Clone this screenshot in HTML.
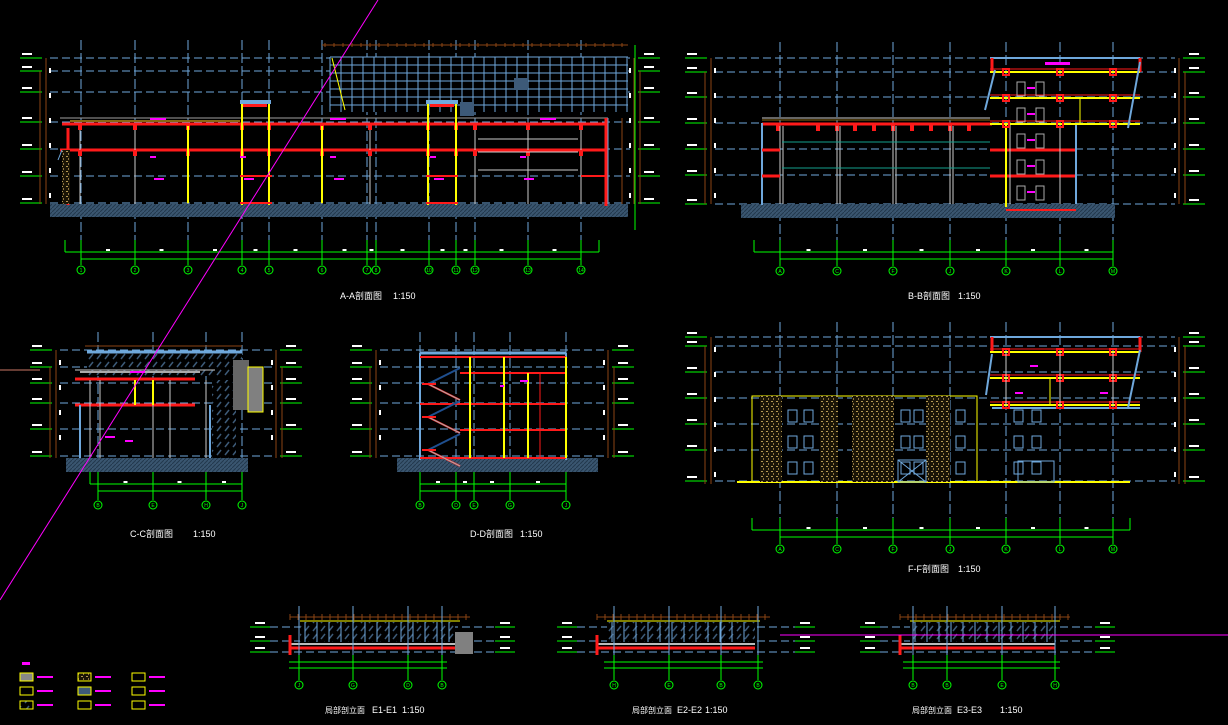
<!DOCTYPE html>
<html><head><meta charset="utf-8">
<style>
html,body{margin:0;padding:0;background:#000;overflow:hidden}
svg{display:block}
text{font-family:"Liberation Sans","Noto Sans CJK SC",sans-serif;}
</style></head>
<body>
<svg id="s" width="1228" height="725" viewBox="0 0 1228 725" xmlns="http://www.w3.org/2000/svg">
<rect width="1228" height="725" fill="#000"/>
<defs>
<pattern id="hatch" width="4" height="4" patternUnits="userSpaceOnUse">
<rect width="4" height="4" fill="#3a5670"/><path d="M0 4L4 0" stroke="#22384c" stroke-width="1"/>
</pattern>
<pattern id="stone" width="5" height="5" patternUnits="userSpaceOnUse">
<rect width="5" height="5" fill="#1a1406"/><rect x="1" y="1" width="2" height="1" fill="#b59a55"/><rect x="3" y="3" width="1" height="2" fill="#8c7440"/>
</pattern>
<pattern id="glass" width="8" height="8" patternUnits="userSpaceOnUse">
<rect width="8" height="8" fill="#000"/><path d="M1 7L5 2" stroke="#3d5a78" stroke-width="1.5"/>
</pattern>
</defs>
<g id="g"></g>
<g font-size="9" fill="#fff">
<text x="340" y="299">A-A剖面图</text><text x="393" y="299">1:150</text>
<text x="908" y="299">B-B剖面图</text><text x="958" y="299">1:150</text>
<text x="130" y="537">C-C剖面图</text><text x="193" y="537">1:150</text>
<text x="470" y="537">D-D剖面图</text><text x="520" y="537">1:150</text>
<text x="908" y="572">F-F剖面图</text><text x="958" y="572">1:150</text>
<text x="325" y="713" font-size="8">局部剖立面</text><text x="372" y="713">E1-E1</text><text x="402" y="713">1:150</text>
<text x="632" y="713" font-size="8">局部剖立面</text><text x="677" y="713">E2-E2</text><text x="705" y="713">1:150</text>
<text x="912" y="713" font-size="8">局部剖立面</text><text x="957" y="713">E3-E3</text><text x="1000" y="713">1:150</text>
</g>
</svg>
<script>
var g=document.getElementById('g'),h='';
function L(x1,y1,x2,y2,c,w,d){h+='<line x1="'+x1+'" y1="'+y1+'" x2="'+x2+'" y2="'+y2+'" stroke="'+c+'" stroke-width="'+(w||1)+'"'+(d?' stroke-dasharray="'+d+'"':'')+'/>';}
function R(x,y,w,hh,f,s,sw){h+='<rect x="'+x+'" y="'+y+'" width="'+w+'" height="'+hh+'" fill="'+(f||'none')+'"'+(s?' stroke="'+s+'" stroke-width="'+(sw||1)+'"':'')+'/>';}
function C(x,y,t){h+='<circle cx="'+x+'" cy="'+y+'" r="4" fill="none" stroke="#0f0" stroke-width="1"/><text x="'+x+'" y="'+(y+2)+'" font-size="5" fill="#0f0" text-anchor="middle">'+t+'</text>';}
var B='#6fa8dc',GR='#00ff00',RD='#ff1a1a',YE='#ffff00',BR='#8b4513',WH='#ccc',MG='#ff00ff';
function section(o){
 // o: x0,x1 extents, axes, grid ys, ground y, dims y, labels
 o.ys.forEach(function(y){L(o.x0,y,o.x1,y,B,1,'8 4');});
 o.ax.forEach(function(x,i){L(x,o.top,x,o.cy-5,B,1,'10 3');C(x,o.cy,o.lab[i]);});
 R(o.gx0,o.gy,o.gx1-o.gx0,o.gh,'url(#hatch)');
 // dims
 var a0=o.ax[0],a1=o.ax[o.ax.length-1];
 L(o.dx0,o.dy,o.dx1,o.dy,GR,1);L(a0,o.dy+7,a1,o.dy+7,GR,1);
 L(o.dx0,o.dy-12,o.dx0,o.dy,GR,1);L(o.dx1,o.dy-12,o.dx1,o.dy,GR,1);
 o.ax.forEach(function(x){L(x,o.dy-12,x,o.cy-5,GR,1);});
 for(var i=0;i<o.ax.length-1;i++)R((o.ax[i]+o.ax[i+1])/2-2,o.dy-3,4,2,'#fff');
 // level markers both sides
 o.ys.forEach(function(y){
  L(o.x0-30,y,o.x0-8,y,GR,1);R(o.x0-28,y-5,10,2,'#fff');
  L(o.x1+8,y,o.x1+30,y,GR,1);R(o.x1+14,y-5,10,2,'#fff');
 });
 L(o.x0-4,o.ys[0],o.x0-4,o.gy,BR,1);L(o.x1+4,o.ys[0],o.x1+4,o.gy,BR,1);
 L(o.x0-10,o.ys[1],o.x0-10,o.gy,BR,1);L(o.x1+10,o.ys[1],o.x1+10,o.gy,BR,1);
 for(var y=o.ys[0]+10;y<o.gy;y+=25){R(o.x0-1,y,2,5,'#fff');R(o.x1-1,y,2,5,'#fff');}
}
// ===== A-A =====
var axA=[81,135,188,242,269,322,367,376,429,456,475,528,581];
section({x0:50,x1:630,ys:[58,71,92,122,149,176,203],ax:axA,lab:['1','2','3','4','5','6','7','8','10','11','12','13','14'],top:40,cy:270,gx0:50,gx1:628,gy:204,gh:13,dy:252,dx0:65,dx1:599});
// curtain wall
R(330,57,298,55,'#000');
for(var x=330;x<=628;x+=11)L(x,57,x,112,B,1);
for(var y=57;y<=112;y+=8)L(330,y,628,y,B,1);
R(514,78,14,12,'#3d5a78');R(460,102,14,14,'#3d5a78');
L(322,45,628,45,BR,1);for(x=325;x<628;x+=9)L(x,43,x,47,BR,1);
L(332,58,345,110,YE,1);
// columns & beams A
L(62,124,608,124,RD,3);L(60,150,608,150,RD,3);L(60,118,608,118,'#a0a0a0',1);
L(70,121,240,121,'#8b6914',2);
[80,135,188,242,269,322,370,428,456,475,528,581].forEach(function(x){L(x,126,x,204,WH,1);R(x-2,124,4,6,RD);R(x-2,150,4,6,RD);});
[188,242,269,322,428,456].forEach(function(x){L(x,126,x,203,YE,2);});
L(242,101,242,205,YE,2);L(269,101,269,205,YE,2);R(240,100,31,4,B);R(243,104,24,3,RD);
L(428,101,428,205,YE,2);L(456,101,456,205,YE,2);R(426,100,32,4,B);R(430,104,24,3,RD);
L(240,176,272,176,RD,2);L(426,176,458,176,RD,2);L(240,203,272,203,RD,2);L(426,203,458,203,RD,2);
L(581,176,608,176,RD,2);L(606,118,606,206,RD,3);L(68,128,68,205,RD,3);
R(62,150,8,54,'url(#stone)');
L(478,139,578,139,WH,1);L(478,152,578,152,WH,1);L(478,170,578,170,WH,1);
L(608,118,608,204,B,1);L(622,118,622,204,BR,1);L(635,45,635,230,GR,1);
[150,330,540].forEach(function(x){R(x,118,16,2,MG);});
[150,240,330,430,520].forEach(function(x){R(x,156,6,2,MG);R(x+4,178,10,2,MG);});
L(62,150,58,160,B,1);
// ===== B-B =====
var axB=[780,837,893,950,1006,1060,1113];
section({x0:715,x1:1175,ys:[58,72,97,123,149,175,204],ax:axB,lab:['A','C','F','J','K','L','M'],top:42,cy:271,gx0:741,gx1:1115,gy:204,gh:14,dy:252,dx0:754,dx1:1113});
L(762,124,992,124,RD,3);L(762,118,990,118,WH,1);L(762,120,990,120,'#8b6914',1);
[778,818,837,855,874,893,912,931,950,969].forEach(function(x){R(x-2,124,4,7,RD);});
[780,837,893,950].forEach(function(x){L(x,126,x,204,WH,1);L(x+3,126,x+3,204,WH,1);});
L(762,123,762,205,B,2);
L(762,150,780,150,RD,3);L(762,176,780,176,RD,3);
L(782,142,990,142,'#14a08c',1);L(782,168,990,168,'#14a08c',1);
L(990,150,1076,150,RD,3);L(990,176,1076,176,RD,3);L(1006,210,1076,210,RD,2);
L(1006,124,1006,207,YE,2);L(1076,124,1076,204,B,2);L(1010,124,1010,204,WH,1);L(1060,124,1060,204,WH,1);
R(990,57,150,2,B);L(992,58,992,72,RD,3);L(1140,58,1140,72,RD,3);
[72,98,124].forEach(function(y){L(990,y,1140,y,YE,2);L(990,y-3,1140,y-3,RD,1);});
L(1080,98,1080,124,YE,1);
[1006,1060,1113].forEach(function(x){[72,98,124].forEach(function(y){R(x-3,y-3,6,6,'none',RD,2);});});
L(995,70,985,110,B,2);L(1140,62,1128,128,B,2);
for(var y=82;y<210;y+=26){R(1017,y,8,14,'none','#aaa');R(1036,y,8,14,'none','#aaa');R(1027,y+5,8,2,MG);}
R(1045,62,25,3,MG);
// ===== C-C =====
var axC=[98,153,206,242];
section({x0:60,x1:272,ys:[350,367,383,403,429,456],ax:axC,lab:['B','E','H','J'],top:332,cy:505,gx0:66,gx1:248,gy:458,gh:14,dy:484,dx0:90,dx1:242});
R(87,352,155,24,'url(#glass)');L(87,352,242,352,B,3);L(85,346,242,346,BR,1);
L(75,379,195,379,RD,3);L(75,405,195,405,RD,3);L(75,370,215,370,WH,1);
[90,100,153,170,206].forEach(function(x){L(x,380,x,458,WH,1);});
L(135,380,135,405,YE,2);L(153,380,153,405,YE,2);
L(80,405,80,458,B,2);L(210,405,210,458,B,2);
R(212,380,24,78,'url(#glass)');R(233,360,16,50,'#666');R(248,367,15,45,'#808080','#ff0');
L(80,372,200,372,'#aaa',2);R(130,371,15,2,MG);R(105,436,10,2,MG);R(125,440,8,2,MG);
// ===== D-D =====
var axD=[420,456,474,510,566];
section({x0:380,x1:604,ys:[350,367,383,403,429,456],ax:axD,lab:['B','D','E','G','J'],top:332,cy:505,gx0:397,gx1:598,gy:458,gh:14,dy:484,dx0:420,dx1:566});
L(420,353,566,353,B,3);L(420,353,420,460,B,2);L(566,353,566,460,B,2);
L(420,357,566,357,RD,2);L(460,373,566,373,RD,2);L(420,404,566,404,RD,2);L(460,430,566,430,RD,2);L(420,458,566,458,RD,2);
L(470,357,470,458,YE,2);L(504,357,504,458,YE,2);L(528,373,528,458,YE,2);L(566,357,566,458,YE,2);
L(540,373,540,458,RD,1);
// stairs
for(var k=0;k<3;k++){var yy=368+k*33;L(460,yy,428,yy+16,'#1f4f8f',2);L(428,yy+16,460,yy+32,RD,2);L(460,yy+32,428,yy+16,'#aaa',1);L(422,yy+16,436,yy+16,RD,2);}
R(500,385,4,2,MG);R(520,380,8,2,MG);
// ===== F-F =====
var axF=[780,837,893,950,1006,1060,1113];
section({x0:715,x1:1175,ys:[337,346,372,398,424,450,481],ax:axF,lab:['A','C','F','J','K','L','M'],top:322,cy:549,gx0:0,gx1:0,gy:484,gh:0,dy:530,dx0:752,dx1:1130});
L(737,482,1130,482,YE,2);
R(752,396,225,86,'none',YE,1);
R(760,396,22,86,'url(#stone)');R(820,396,18,86,'url(#stone)');R(852,396,42,86,'url(#stone)');R(926,396,24,86,'url(#stone)');
[792,808,905,918,960,1018,1036].forEach(function(x){for(var y=410;y<470;y+=26)R(x-4,y,9,12,'none',B);});
R(898,460,28,22,'none',B);L(898,460,926,482,B,1);L(926,460,898,482,B,1);
R(1018,461,36,21,'none',B);
R(990,336,150,2,B);L(992,337,992,352,RD,3);L(1140,337,1140,352,RD,3);
[352,378,405].forEach(function(y){L(990,y,1140,y,YE,2);L(990,y-3,1140,y-3,RD,1);});
L(992,408,1140,408,B,2);L(992,354,986,395,B,2);L(1140,350,1128,408,B,2);
[1006,1060,1113].forEach(function(x){[352,378,405].forEach(function(y){R(x-3,y-3,6,6,'none',RD,2);});L(x,352,x,405,WH,1);});
L(1050,378,1050,405,YE,1);R(1030,365,8,2,MG);R(1015,392,8,2,MG);R(1100,392,8,2,MG);
// ===== E sections =====
function E(x0,x1,ax,lab,gl){
 [627,641,652].forEach(function(y){L(x0-15,y,x1+15,y,B,1,'8 4');L(x0-35,y,x0-15,y,GR,1);L(x1+15,y,x1+35,y,GR,1);R(x0-30,y-5,10,2,'#fff');R(x1+20,y-5,10,2,'#fff');});
 L(x0+5,617,x1-10,617,BR,1);for(var x=x0+5;x<x1-10;x+=8)L(x,614,x,620,BR,1);
 L(x0+15,621,x1-20,621,YE,1);
 R(x0+15,622,x1-x0-40,20,'url(#glass)');
 for(x=x0+20;x<x1-25;x+=12)L(x,622,x,642,B,1);
 L(x0+5,644,x1-25,644,'#bbb',2);L(x0+5,648,x1-25,648,RD,3);
 L(x0+5,635,x0+5,655,RD,3);
 ax.forEach(function(x,i){L(x,606,x,680,B,1);L(x,655,x,680,GR,1);C(x,685,lab[i]);});
 L(ax[0]-10,662,ax[ax.length-1]+5,662,GR,1);L(ax[0]-10,668,ax[ax.length-1]+5,668,GR,1);
 if(gl)R(x1-25,632,18,22,'#808080');
}
E(285,480,[299,353,408,442],['J','G','D','B'],1);
E(592,780,[614,669,721,758],['H','E','B','B'],0);
E(895,1080,[913,947,1002,1055],['B','B','E','H'],0);
// legend
R(22,662,8,3,MG);
[[20,673,'#888'],[20,687,'none'],[20,701,'url(#glass)'],[78,673,'url(#stone)'],[78,687,'#3d5a78'],[78,701,'none'],[132,673,'none'],[132,687,'none'],[132,701,'none']].forEach(function(a){R(a[0],a[1],13,8,a[2],YE,1);R(a[0]+17,a[1]+3,16,2,MG);});
// magenta lines
L(378,0,0,600,MG,1);L(780,635,1228,635,MG,1);L(0,370,40,370,'#c76',1);
g.innerHTML=h;
</script>
</body></html>
